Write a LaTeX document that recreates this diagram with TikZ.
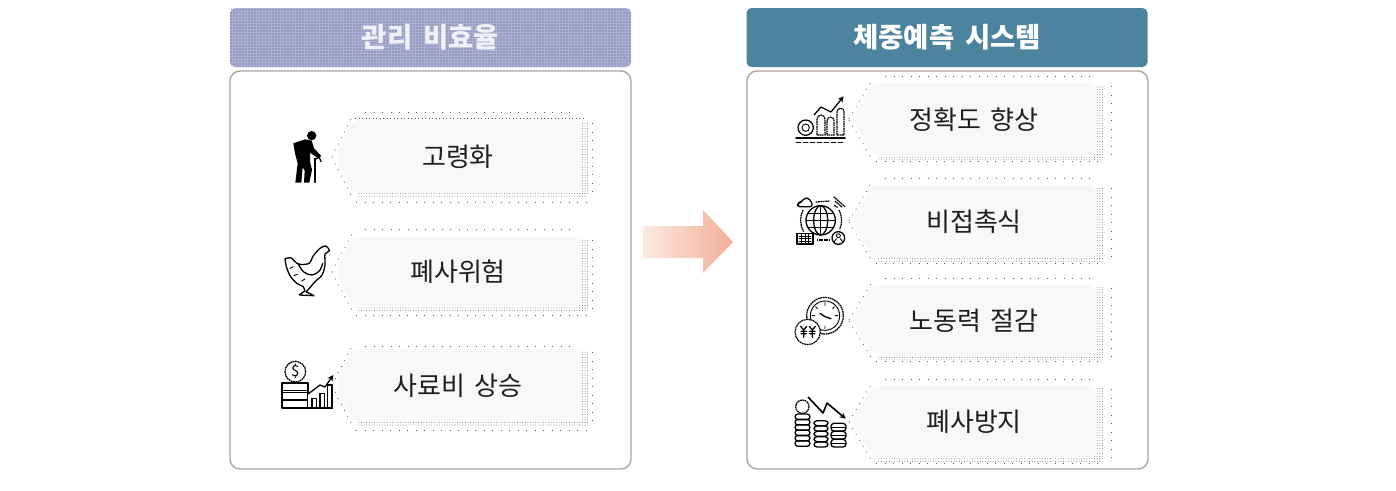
\documentclass[tikz,border=0pt]{standalone}
\usepackage{fontspec}
\setmainfont[WordSpace=1.7]{Noto Sans CJK KR}
\usetikzlibrary{patterns.meta,arrows.meta}
\definecolor{panelline}{HTML}{A6A6A6}
\definecolor{tagfill}{HTML}{F8F8F8}
\definecolor{headblue}{HTML}{4C84A0}
\definecolor{headlilac}{HTML}{ACB1D1}
\definecolor{dither}{HTML}{7C85B6}
\definecolor{dotgrey}{HTML}{555555}
\definecolor{bandgrey}{HTML}{808080}
\definecolor{arrowlight}{HTML}{FBEADF}
\definecolor{arrowdark}{HTML}{F3AE98}
\definecolor{headtext}{HTML}{F0F1F8}
\tikzset{
  panelbox/.style={draw=panelline,line width=1.4pt,fill=white,rounded corners=10pt,minimum width=401pt,minimum height=398pt,inner sep=0pt},
  headbox/.style={rounded corners=5pt,minimum width=401pt,minimum height=59pt,inner sep=0pt},
  headtitle/.style={inner sep=0pt,font=\fontsize{27.5}{28}\selectfont\bfseries},
  tagbody/.style={fill=tagfill,rounded corners=7pt},
  tagtext/.style={inner sep=0pt,text=black!88,font=\fontsize{26}{28}\selectfont},
  sparsedots/.style={dotgrey,line width=.9pt,dash pattern=on .9pt off 7.6pt},
  mediumdots/.style={dotgrey,line width=.8pt,dash pattern=on .8pt off 6pt},
  densedots/.style={dotgrey,line width=.9pt,dash pattern=on .9pt off 2.6pt},
  band/.style={pattern={Dots[distance=2.6pt,radius=.5pt]},pattern color=bandgrey},
  zoomed/.style 2 args={shift={(#1,#2)},x=.33333pt,y=-.33333pt},
  ink/.style={draw=black,line width=1.3pt,line join=round,line cap=round},
  thinink/.style={draw=black,line width=.9pt,line join=round,line cap=round},
  dashink/.style={draw=black,line width=1.25pt,dash pattern=on 1.8pt off .6pt},
  wash/.style={fill=white,draw=black,line width=1.2pt,dash pattern=on 1.8pt off .6pt},
  tipink/.style={-{Stealth[length=6pt,width=6pt]},draw=black,line width=1.3pt,line join=round},
}
\newcommand{\topgap}{8}
\newcommand{\botgap}{9}
\newcommand{\sidegap}{11}
% name, tip x, body left, right, top, bottom, text
\newcommand{\tagbox}[7]{%
  \fill[band] ({#4-3},{#6-1}) rectangle ({#4+5},{#6+4});
  \fill[band] ({#3+4},{#6}) rectangle ({#4},{#6+4});
  \fill[band] ({#4},{#5+2}) rectangle ({#4+7},{#6+2});
  \path[tagbody] ({#2},{(#5+#6)/2}) -- ({#3},{#5}) -- ({#4},{#5}) -- ({#4},{#6}) -- ({#3},{#6}) -- cycle;
  \draw[sparsedots] ({#3+12},{#5-\topgap}) -- ({#4-4},{#5-\topgap});
  \draw[sparsedots] ({#3+3},{#6+\botgap}) -- ({#4+7},{#6+\botgap});
  \draw[sparsedots] ({#4+\sidegap},{#5+3}) -- ({#4+\sidegap},{#6+6});
  \draw[mediumdots] ({#2-3},{(#5+#6)/2}) -- ({#3-1},{#5-3});
  \draw[mediumdots] ({#2-3},{(#5+#6)/2+1}) -- ({#3-1},{#6+4});
  \node[tagtext] (#1) at ({(#2+#4)/2},{(#5+#6)/2+.5}) {#7};
}
\begin{document}
\begin{tikzpicture}[x=1pt,y=-1pt]
\useasboundingbox (0,0) rectangle (1396,490);
\fill[white] (0,0) rectangle (1396,490);

\node[panelbox] (leftpanel) at (430.5,270) {};
\node[panelbox] (rightpanel) at (947.5,270) {};
\node[headbox,fill=headlilac,postaction={pattern={Dots[distance=3pt,radius=.8pt]},pattern color=dither}] (lefthead) at (430.5,37.5) {};
\node[headtitle,text=headtext] (lefttitle) at (lefthead) {관리 비효율};
\node[headbox,headtitle,minimum width=401pt,minimum height=59pt,fill=headblue,text=white,rounded corners=5pt] (righthead) at (947,37.5) {체중예측 시스템};

% arrow
\path[left color=arrowlight,right color=arrowdark]
  (643,226) -- (703,226) -- (703,210) -- (733,242) -- (703,273) -- (703,258) -- (643,258) -- cycle;

% tags
\tagbox{aging}{335}{353}{581}{120}{193}{고령화}
\draw[densedots] (355,118) -- (583,118);
\tagbox{death}{335}{353}{581}{237}{306}{폐사위험}
\renewcommand{\topgap}{3}
\tagbox{feed}{335}{353}{581}{349}{421}{사료비 상승}
\renewcommand{\topgap}{7}
\renewcommand{\botgap}{6}
\renewcommand{\sidegap}{15}
\tagbox{accuracy}{852}{873}{1096}{83}{155}{정확도 향상}
\tagbox{contactless}{852}{873}{1096}{185}{257}{비접촉식}
\tagbox{labour}{852}{873}{1096}{285}{355}{노동력 절감}
\tagbox{prevent}{852}{873}{1096}{386}{457}{폐사방지}

% old person
\begin{scope}[zoomed={270}{120}]
  \fill[black] (125,47) circle (14);
  \fill[black] (70,70) -- (105,58) -- (125,62) -- (132,85) -- (154,108) -- (144,114) -- (120,98) -- (120,125) -- (126,150) -- (118,188) -- (102,188) -- (104,152) -- (98,142) -- (94,188) -- (76,188) -- (83,130) -- (75,100) -- cycle;
  \draw[ink,dash pattern=on 2.5pt off .7pt] (135,115) -- (135,187);
  \draw[ink] (135,118) -- (148,112) -- (153,125);
\end{scope}

% hen
\begin{scope}[zoomed={270}{235}]
  \draw[ink] plot[smooth,tension=.55] coordinates {(45,72) (62,68) (85,87) (118,85) (128,65) (150,40) (168,33) (178,48) (165,57) (165,90) (156,120) (135,140) (120,158)};
  \draw[ink] plot[smooth,tension=.55] coordinates {(45,72) (50,98) (62,125) (82,146) (100,155) (104,168)};
  \draw[ink] plot[smooth,tension=.6] coordinates {(85,87) (100,110) (125,120) (148,108) (158,85)};
  \draw[ink] (120,158) -- (108,170) -- (132,182) -- (88,180) -- (98,172) -- (104,168);
  \draw[thinink] (60,100) -- (70,95) (72,122) -- (82,118) (95,138) -- (105,132);
\end{scope}

% coin and chart
\begin{scope}[zoomed={270}{350}]
  \draw[dashink] (76,65) circle (31);
  \node[inner sep=0pt,font=\fontsize{15}{15}\selectfont] (dollar) at (76,64) {\$};
  \draw[ink,line width=1.5pt] (36,99) rectangle (114,174);
  \draw[thinink] (36,122) -- (114,122) (36,126) -- (114,126) (36,148) -- (114,148) (36,152) -- (114,152);
  \fill[white] (115,128) rectangle (192,172);
  \draw[tipink] (114,132) -- (150,105) -- (165,111) -- (190,75);
  \draw[ink] (126,174) rectangle (140,146) (150,174) rectangle (163,130) (173,174) rectangle (186,105) (114,174) -- (188,174);
\end{scope}

% chart and gear
\begin{scope}[zoomed={785}{85}]
  \draw[ink,dash pattern=on 1.8pt off .6pt] (62,128) circle (23);
  \draw[thinink] (62,128) circle (11);
  \draw[dashink] (96,150) -- (96,102) arc[start angle=180,end angle=360,radius=12] -- (120,150) -- cycle;
  \draw[dashink] (126,150) -- (126,107) arc[start angle=180,end angle=360,radius=10.5] -- (147,150) -- cycle;
  \draw[dashink] (156,150) -- (156,80) arc[start angle=180,end angle=360,radius=10.5] -- (177,150) -- cycle;
  \draw[tipink] (87,90) -- (108,66) -- (138,81) -- (176,34);
  \draw[ink,line width=1.6pt] (33,159) -- (180,159);
  \draw[thinink,dash pattern=on 5pt off 2pt] (33,171) -- (180,171);
\end{scope}

% globe
\begin{scope}[zoomed={785}{190}]
  \draw[ink] (107,91) circle (44);
  \draw[ink] (107,91) ellipse (21 and 44);
  \draw[thinink] (107,47) -- (107,135) (63,91) -- (151,91) (70,70) -- (144,70) (70,112) -- (144,112);
  \draw[ink,rounded corners=3pt] (36,50) -- (40,38) -- (50,36) -- (60,22) -- (76,28) -- (84,50) -- cycle;
  \draw[dashink] (146,20) -- (180,50) (150,33) -- (172,52) (148,46) -- (158,52);
  \draw[dashink] (92,36) -- (135,33);
  \draw[dashink] (54,60) .. controls (44,80) and (44,105) .. (56,125);
  \draw[dashink] (162,60) .. controls (172,80) and (172,100) .. (164,118);
  \draw[dashink] (95,150) -- (133,150);
  \draw[ink] (36,130) rectangle (84,162);
  \draw[thinink] (42,138) -- (78,138) (42,146) -- (78,146) (42,154) -- (78,154) (50,132) -- (50,160) (60,132) -- (60,160) (70,132) -- (70,160);
  \draw[ink,fill=white] (160,144) circle (19);
  \draw[thinink] (160,137) circle (6) (146,157) -- (154,146) (174,157) -- (166,146);
\end{scope}

% clock and coin
\begin{scope}[zoomed={785}{290}]
  \draw[dashink] (120,77) circle (55);
  \draw[thinink] (120,77) circle (44);
  \draw[ink] (120,80) -- (105,70) (120,80) -- (138,86);
  \draw[thinink] (120,38) -- (120,46) (159,77) -- (151,77) (81,77) -- (89,77) (120,108) -- (120,116) (92,50) -- (97,56) (148,50) -- (143,56);
  \draw[wash] (68,126) circle (38);
  \draw[ink] (47,109) -- (56,120) -- (65,109) (56,120) -- (56,142) (48,124) -- (64,124) (48,131) -- (64,131);
  \draw[ink] (73,109) -- (82,120) -- (91,109) (82,120) -- (82,142) (74,124) -- (90,124) (74,131) -- (90,131);
\end{scope}

% falling coins
\begin{scope}[zoomed={785}{390}]
  \draw[dashink] (52,50) circle (20);
  \foreach \yy in {72,88,104,120,136,152} {
    \draw[ink,rounded corners=3pt] (30,\yy) rectangle (75,\yy+17);
  }
  \foreach \yy in {92,108,124,140,156} {
    \draw[ink,rounded corners=3pt] (87,\yy) rectangle (129,\yy+15);
  }
  \foreach \yy in {100,124,148} {
    \draw[ink,rounded corners=3pt] (138,\yy) rectangle (183,\yy+23);
  }
  \draw[thinink] (138,112) -- (183,112) (138,136) -- (183,136) (138,160) -- (183,160);
  \draw[tipink,line width=1.6pt] (69,21) -- (114,69) -- (126,39) -- (182,86);
\end{scope}
\end{tikzpicture}
\end{document}
